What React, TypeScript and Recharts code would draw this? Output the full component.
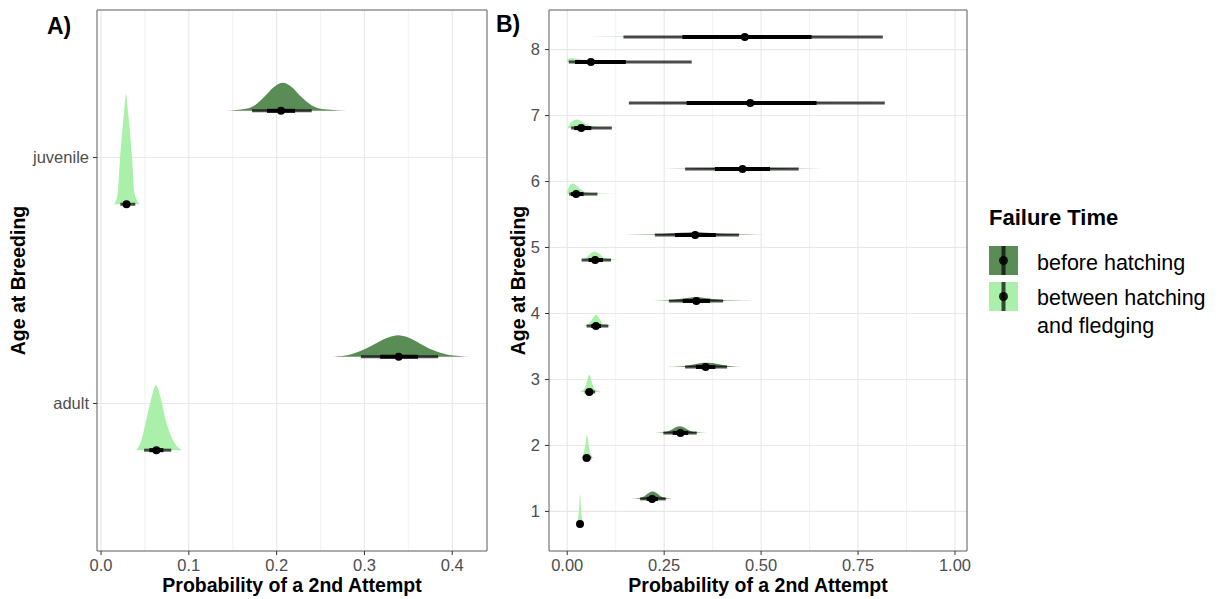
import {
  Area,
  CartesianGrid,
  ComposedChart,
  ReferenceArea,
  ReferenceLine,
  Scatter,
  XAxis,
  YAxis,
} from "recharts";

const FONT = '"Liberation Sans", Arial, Helvetica, sans-serif';
const DARK = "#5a8c55";
const LIGHT = "#abf0aa";

type Pt = [number, number];
type Range = [number, number];

// ---- Panel A: age class ----
// density outlines are [probability, height above the baseline in y units]
const ageClassesA = ["adult", "juvenile"];

const slabsBeforeA: Pt[][] = [
  [[0.265, 0], [0.285, 0.01], [0.3, 0.03], [0.315, 0.058], [0.328, 0.079], [0.338, 0.087], [0.35, 0.078], [0.363, 0.054], [0.378, 0.027], [0.395, 0.008], [0.42, 0]],
  [[0.143, 0], [0.165, 0.008], [0.176, 0.025], [0.186, 0.057], [0.197, 0.097], [0.207, 0.114], [0.217, 0.097], [0.228, 0.057], [0.24, 0.022], [0.255, 0.006], [0.28, 0]],
];
const slabsBetweenA: Pt[][] = [
  [[0.04, 0], [0.046, 0.04], [0.052, 0.132], [0.0573, 0.211], [0.0626, 0.264], [0.068, 0.211], [0.073, 0.132], [0.082, 0.04], [0.092, 0]],
  [[0.015, 0], [0.019, 0.045], [0.0217, 0.19], [0.0258, 0.36], [0.0285, 0.447], [0.0312, 0.36], [0.0353, 0.19], [0.038, 0.045], [0.044, 0]],
];

const medianBeforeA = [0.339, 0.205];
const inner66BeforeA: Range[] = [[0.318, 0.361], [0.189, 0.221]];
const outer95BeforeA: Range[] = [[0.296, 0.384], [0.172, 0.24]];
const medianBetweenA = [0.063, 0.029];
const inner66BetweenA: Range[] = [[0.055, 0.071], [0.025, 0.033]];
const outer95BetweenA: Range[] = [[0.049, 0.08], [0.022, 0.039]];

// ---- Panel B: age in years ----
const agesB = [1, 2, 3, 4, 5, 6, 7, 8];

const slabsBeforeB: Pt[][] = [
  [[0.165, 0], [0.185, 0.01], [0.2, 0.045], [0.212, 0.095], [0.22, 0.11], [0.228, 0.095], [0.24, 0.045], [0.255, 0.01], [0.275, 0]],
  [[0.225, 0], [0.25, 0.01], [0.268, 0.045], [0.28, 0.085], [0.29, 0.1], [0.3, 0.085], [0.312, 0.045], [0.33, 0.01], [0.36, 0]],
  [[0.255, 0], [0.3, 0.01], [0.325, 0.035], [0.345, 0.06], [0.36, 0.065], [0.375, 0.06], [0.395, 0.035], [0.42, 0.01], [0.45, 0]],
  [[0.22, 0], [0.26, 0.008], [0.29, 0.03], [0.315, 0.05], [0.333, 0.055], [0.35, 0.05], [0.375, 0.03], [0.41, 0.008], [0.48, 0]],
  [[0.144, 0], [0.22, 0.006], [0.27, 0.025], [0.31, 0.038], [0.33, 0.04], [0.36, 0.035], [0.4, 0.018], [0.45, 0.006], [0.54, 0]],
  [[0.188, 0], [0.3, 0.005], [0.38, 0.015], [0.45, 0.02], [0.52, 0.015], [0.6, 0.005], [0.725, 0]],
  [[0.05, 0], [0.25, 0.004], [0.45, 0.008], [0.7, 0.004], [0.98, 0]],
  [[0.05, 0], [0.25, 0.004], [0.45, 0.007], [0.7, 0.004], [0.98, 0]],
];
const slabsBetweenB: Pt[][] = [
  [[0.022, 0], [0.027, 0.05], [0.03, 0.2], [0.033, 0.45], [0.036, 0.2], [0.039, 0.05], [0.044, 0]],
  [[0.035, 0], [0.041, 0.05], [0.046, 0.17], [0.051, 0.35], [0.056, 0.17], [0.061, 0.05], [0.068, 0]],
  [[0.033, 0], [0.043, 0.04], [0.05, 0.14], [0.057, 0.26], [0.064, 0.14], [0.071, 0.04], [0.088, 0]],
  [[0.04, 0], [0.055, 0.03], [0.065, 0.11], [0.074, 0.17], [0.083, 0.11], [0.093, 0.03], [0.12, 0]],
  [[0.035, 0], [0.048, 0.03], [0.06, 0.1], [0.07, 0.13], [0.082, 0.1], [0.097, 0.03], [0.136, 0]],
  [[0, 0.04], [0.005, 0.12], [0.015, 0.16], [0.025, 0.12], [0.04, 0.05], [0.06, 0.015], [0.1, 0.003], [0.16, 0]],
  [[0.002, 0.02], [0.01, 0.09], [0.025, 0.13], [0.04, 0.09], [0.06, 0.035], [0.09, 0.01], [0.14, 0.002], [0.213, 0]],
  [[0, 0.045], [0.01, 0.06], [0.03, 0.045], [0.06, 0.02], [0.12, 0.006], [0.25, 0.002], [0.5, 0]],
];

const medianBeforeB = [0.219, 0.292, 0.357, 0.333, 0.33, 0.452, 0.472, 0.458];
const inner66BeforeB: Range[] = [
  [0.205, 0.234], [0.272, 0.312], [0.332, 0.382], [0.298, 0.368],
  [0.278, 0.383], [0.381, 0.523], [0.308, 0.643], [0.297, 0.63],
];
const outer95BeforeB: Range[] = [
  [0.188, 0.254], [0.248, 0.334], [0.304, 0.412], [0.262, 0.402],
  [0.226, 0.443], [0.304, 0.597], [0.159, 0.819], [0.145, 0.814],
];
const medianBetweenB = [0.033, 0.05, 0.057, 0.074, 0.072, 0.023, 0.036, 0.061];
const inner66BetweenB: Range[] = [
  [0.03, 0.036], [0.045, 0.056], [0.05, 0.064], [0.062, 0.087],
  [0.055, 0.092], [0.01, 0.042], [0.018, 0.062], [0.02, 0.151],
];
const outer95BetweenB: Range[] = [
  [0.027, 0.04], [0.04, 0.062], [0.045, 0.072], [0.05, 0.106],
  [0.037, 0.113], [0.005, 0.078], [0.01, 0.115], [0.004, 0.321],
];

// failure-time groups sit above / below each row
const DODGE = 0.19;

interface Group {
  color: string;
  offset: number;
  slabs: Pt[][];
  medians: number[];
  inner: Range[];
  outer: Range[];
}

interface PanelProps {
  width: number;
  marginRight: number;
  yAxisWidth: number;
  rows: number[];
  yDomain: Range;
  xDomain: Range;
  xTicks: number[];
  xMinor: number[];
  xDigits: number;
  yTickFormat: (v: number) => string;
  yLabelOffset: number;
  yTickMargin: number;
  groups: Group[];
}

const tickStyle = { fill: "#4d4d4d", fontSize: 16.5, fontFamily: FONT };
const titleStyle = { fill: "#000", fontSize: 19.5, fontWeight: 700, fontFamily: FONT };

function Dot(props: any) {
  return <circle cx={props.cx} cy={props.cy} r={4} fill="#000" />;
}

function Panel(p: PanelProps) {
  return (
    <ComposedChart
      width={p.width}
      height={599}
      margin={{ top: 10, right: p.marginRight, bottom: 0, left: 0 }}
    >
      <CartesianGrid verticalValues={p.xMinor} horizontal={false} stroke="#efefef" strokeWidth={0.8} />
      <CartesianGrid verticalValues={p.xTicks} horizontalValues={p.rows} stroke="#e8e8e8" strokeWidth={1.1} />
      <XAxis
        type="number"
        dataKey="x"
        domain={p.xDomain}
        allowDataOverflow
        ticks={p.xTicks}
        tickFormatter={(v: number) => v.toFixed(p.xDigits)}
        height={48}
        axisLine={false}
        tickLine={{ stroke: "#333" }}
        tickSize={4}
        tickMargin={4}
        tick={tickStyle}
        label={{ value: "Probability of a 2nd Attempt", position: "insideBottom", offset: 7, style: titleStyle }}
      />
      <YAxis
        type="number"
        dataKey="y"
        domain={p.yDomain}
        allowDataOverflow
        ticks={p.rows}
        tickFormatter={p.yTickFormat}
        width={p.yAxisWidth}
        axisLine={false}
        tickLine={{ stroke: "#333" }}
        tickSize={4}
        tickMargin={p.yTickMargin}
        tick={tickStyle}
        label={{
          value: "Age at Breeding",
          angle: -90,
          position: "insideLeft",
          offset: p.yLabelOffset,
          style: { ...titleStyle, textAnchor: "middle" },
        }}
      />
      <ReferenceArea
        x1={p.xDomain[0]}
        x2={p.xDomain[1]}
        y1={p.yDomain[0]}
        y2={p.yDomain[1]}
        fill="none"
        stroke="#5a5a5a"
        strokeWidth={1}
        ifOverflow="visible"
      />

      {p.groups.map((g, gi) =>
        g.slabs.map((slab, i) => {
          const base = p.rows[i] + g.offset;
          return (
            <Area
              key={`slab-${gi}-${i}`}
              data={slab.map(([x, h]) => ({ x, band: [base, base + h] }))}
              dataKey="band"
              type="monotone"
              fill={g.color}
              fillOpacity={1}
              stroke="none"
              dot={false}
              activeDot={false}
              isAnimationActive={false}
            />
          );
        })
      )}

      {p.groups.map((g, gi) =>
        g.outer.map(([lo, hi], i) => (
          <ReferenceLine
            key={`outer-${gi}-${i}`}
            segment={[{ x: lo, y: p.rows[i] + g.offset }, { x: hi, y: p.rows[i] + g.offset }]}
            stroke="#000"
            strokeOpacity={0.7}
            strokeWidth={3}
            ifOverflow="visible"
          />
        ))
      )}
      {p.groups.map((g, gi) =>
        g.inner.map(([lo, hi], i) => (
          <ReferenceLine
            key={`inner-${gi}-${i}`}
            segment={[{ x: lo, y: p.rows[i] + g.offset }, { x: hi, y: p.rows[i] + g.offset }]}
            stroke="#000"
            strokeWidth={4}
            ifOverflow="visible"
          />
        ))
      )}
      {p.groups.map((g, gi) => (
        <Scatter
          key={`median-${gi}`}
          data={g.medians.map((m, i) => ({ x: m, y: p.rows[i] + g.offset }))}
          shape={Dot}
          isAnimationActive={false}
        />
      ))}
    </ComposedChart>
  );
}

function LegendKey({ y, color }: { y: number; color: string }) {
  return (
    <g>
      <rect x={989} y={y} width={29} height={29} fill={color} />
      <line x1={1003.5} x2={1003.5} y1={y} y2={y + 29} stroke="#000" strokeOpacity={0.7} strokeWidth={4} />
      <circle cx={1003.5} cy={y + 14.5} r={4.5} fill="#000" fillOpacity={0.85} />
    </g>
  );
}

export default function App() {
  return (
    <div style={{ position: "relative", width: 1220, height: 599, background: "#fff", fontFamily: FONT }}>
      <style>{"body{margin:0}"}</style>
      <div style={{ position: "absolute", left: 0, top: 0 }}>
        <Panel
          width={490}
          marginRight={3}
          yAxisWidth={97}
          rows={[1, 2]}
          yDomain={[0.4, 2.6]}
          xDomain={[-0.0046, 0.4396]}
          xTicks={[0, 0.1, 0.2, 0.3, 0.4]}
          xMinor={[0.05, 0.15, 0.25, 0.35]}
          xDigits={1}
          yTickFormat={(v) => ageClassesA[Math.round(v) - 1] ?? ""}
          yLabelOffset={18}
          yTickMargin={4}
          groups={[
            { color: DARK, offset: DODGE, slabs: slabsBeforeA, medians: medianBeforeA, inner: inner66BeforeA, outer: outer95BeforeA },
            { color: LIGHT, offset: -DODGE, slabs: slabsBetweenA, medians: medianBetweenA, inner: inner66BetweenA, outer: outer95BetweenA },
          ]}
        />
      </div>
      <div style={{ position: "absolute", left: 490, top: 0 }}>
        <Panel
          width={490}
          marginRight={13}
          yAxisWidth={59}
          rows={agesB}
          yDomain={[0.4, 8.6]}
          xDomain={[-0.047, 1.031]}
          xTicks={[0, 0.25, 0.5, 0.75, 1]}
          xMinor={[0.125, 0.375, 0.625, 0.875]}
          xDigits={2}
          yTickFormat={(v) => String(v)}
          yLabelOffset={28}
          yTickMargin={5}
          groups={[
            { color: DARK, offset: DODGE, slabs: slabsBeforeB, medians: medianBeforeB, inner: inner66BeforeB, outer: outer95BeforeB },
            { color: LIGHT, offset: -DODGE, slabs: slabsBetweenB, medians: medianBetweenB, inner: inner66BetweenB, outer: outer95BetweenB },
          ]}
        />
      </div>
      <svg
        width={1220}
        height={599}
        style={{ position: "absolute", left: 0, top: 0, pointerEvents: "none" }}
        fontFamily={FONT}
      >
        <text x={47} y={34} fontSize={23} fontWeight={700} fill="#000">A)</text>
        <text x={496} y={32} fontSize={23} fontWeight={700} fill="#000">B)</text>

        <text x={989} y={225} fontSize={22} fontWeight={700} fill="#000">Failure Time</text>
        <LegendKey y={246} color={DARK} />
        <LegendKey y={282} color={LIGHT} />
        <text x={1037} y={270} fontSize={21.5} fill="#000">before hatching</text>
        <text x={1037} y={305} fontSize={21.5} fill="#000">between hatching</text>
        <text x={1037} y={333} fontSize={21.5} fill="#000">and fledging</text>
      </svg>
    </div>
  );
}
